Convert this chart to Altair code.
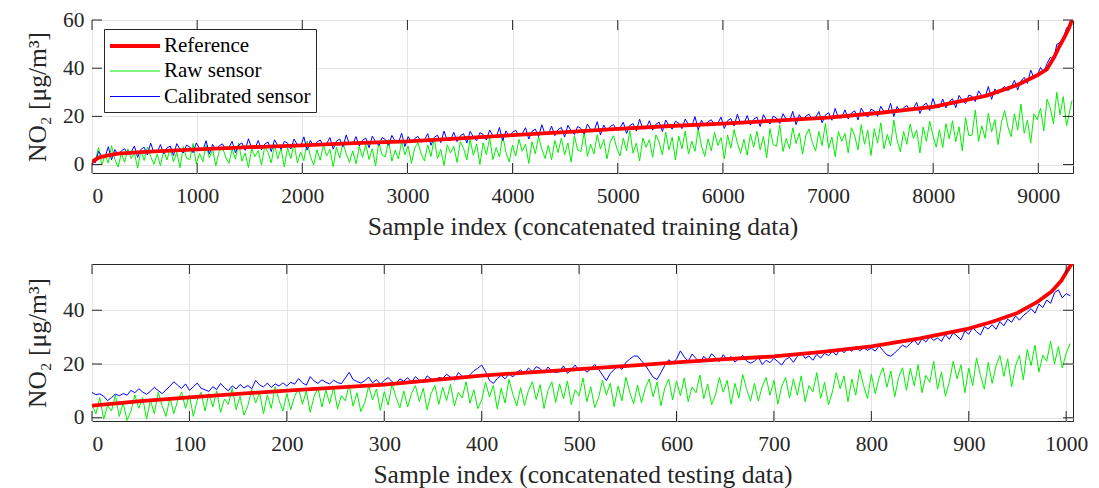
import altair as alt
import pandas as pd

FONT = "Liberation Serif"
SERIES = ["Reference", "Raw sensor", "Calibrated sensor"]
COLORS = ["#ff0000", "#00f000", "#0000ff"]
WIDTHS = [3.8, 1, 1]

# ---------------- top panel (training data) ----------------
top_ref_x = [0, 30, 70, 150, 250, 500, 1000, 1500, 2000, 2500, 3000, 3500, 4000, 4500, 5000,
             5500, 6000, 6500, 7000, 7500, 8000, 8500, 8800, 9000, 9080, 9150, 9200, 9250, 9290, 9320]
top_ref_y = [1.0, 2.0, 3.0, 3.8, 4.5, 5.3, 6.3, 7.2, 8.0, 8.9, 9.6, 10.9, 12.2, 13.5, 14.8,
             16.0, 17.0, 18.2, 19.5, 21.5, 23.9, 28.5, 33.0, 37.3, 39.5, 44.5, 49.0, 53.0, 56.5, 60.0]

top_idx = list(range(0, 9300, 31)) + [9320]

top_raw = [
    1.5, 1.4, 7.0, -0.2, 3.8, 0.6, 7.8, 2.2, -1.0, 4.6,
    0.9, 6.5, 2.5, 4.9, -1.5, 5.7, 1.7, 7.3, 3.3, 0.1,
    4.3, -0.5, 5.9, 1.9, 6.7, 1.1, 5.1, -1.3, 7.5, 2.7,
    2.0, 8.8, 0.3, 4.6, 1.2, 8.0, 2.9, 6.3, -0.5, 5.4,
    7.3, 3.1, 0.5, 6.5, 2.2, 9.0, 1.4, 4.8, -1.2, 6.5,
    3.3, 5.8, -0.2, 7.5, 5.0, 0.7, 8.4, 2.4, 6.7, -1.0,
    7.0, 2.5, 8.8, 0.7, 5.2, 1.6, 9.7, 3.4, -0.2, 6.1,
    1.8, 8.1, 3.6, 6.3, -0.9, 7.2, 2.7, 9.0, 4.5, 0.9,
    5.7, 0.3, 7.5, 3.0, 8.4, 2.1, 6.6, -0.6, 9.3, 3.9,
    3.2, 10.4, 1.4, 5.9, 2.3, 9.5, 4.1, 7.7, 0.5, 6.8,
    9.1, 4.4, 1.5, 8.2, 3.4, 11.0, 2.5, 6.3, -0.4, 8.2,
    4.8, 7.6, 0.9, 9.5, 6.7, 1.9, 10.5, 3.8, 8.6, 0.0,
    9.1, 4.1, 11.1, 2.1, 7.1, 3.1, 12.1, 5.1, 1.1, 8.1,
    3.5, 10.5, 5.5, 8.5, 0.5, 9.5, 4.5, 11.5, 6.5, 2.5,
    8.0, 2.0, 10.0, 5.0, 11.0, 4.0, 9.0, 1.0, 12.0, 6.0,
    5.4, 13.4, 3.4, 8.4, 4.4, 12.4, 6.4, 10.4, 2.4, 9.4,
    12.0, 6.8, 3.6, 11.0, 5.7, 14.1, 4.7, 8.9, 1.5, 11.0,
    7.2, 10.3, 3.0, 12.4, 9.3, 4.0, 13.5, 6.1, 11.4, 1.9,
    11.8, 6.5, 13.9, 4.4, 9.7, 5.5, 14.9, 7.6, 3.4, 10.7,
    5.7, 13.4, 7.9, 11.2, 2.4, 12.3, 6.8, 14.5, 9.0, 4.6,
    10.5, 3.9, 12.7, 7.2, 13.8, 6.1, 11.6, 2.8, 14.9, 8.3,
    7.6, 16.4, 5.4, 10.9, 6.5, 15.3, 8.7, 13.1, 4.3, 12.0,
    14.8, 9.1, 5.6, 13.7, 7.9, 17.1, 6.8, 11.4, 3.3, 13.7,
    9.6, 13.0, 4.9, 15.3, 11.9, 6.1, 16.5, 8.4, 14.2, 3.8,
    14.9, 8.9, 17.3, 6.5, 12.5, 7.7, 18.5, 10.1, 5.3, 13.7,
    8.4, 16.8, 10.8, 14.4, 4.8, 15.6, 9.6, 18.0, 12.0, 7.2,
    14.5, 7.0, 17.0, 10.7, 18.2, 9.5, 15.7, 5.7, 19.5, 12.0,
    12.2, 22.6, 9.6, 16.1, 10.9, 21.3, 13.5, 18.7, 8.3, 17.4,
    22.4, 15.7, 11.6, 21.1, 14.3, 25.1, 13.0, 18.4, 8.9, 21.1,
    18.6, 23.3, 14.0, 27.1, 23.4, 16.9, 30.0, 20.7, 28.2, 16.1,
    26.5,
]

top_cal = [
    2.1, 0.7, 5.5, 3.6, 3.1, 7.4, 2.0, 6.2, 4.0, 5.7,
    6.6, 4.3, 5.2, 7.7, 3.0, 6.3, 7.2, 4.0, 8.9, 5.0,
    5.0, 8.3, 4.4, 6.9, 7.7, 3.8, 8.7, 6.3, 4.8, 8.1,
    7.3, 4.9, 9.0, 6.6, 5.9, 9.9, 4.4, 8.4, 6.1, 7.7,
    8.6, 6.3, 7.1, 9.6, 4.9, 8.1, 9.0, 5.9, 10.7, 6.8,
    6.8, 10.0, 6.1, 8.5, 9.4, 5.4, 10.3, 7.9, 6.4, 9.6,
    8.9, 6.5, 10.6, 8.2, 7.5, 11.5, 6.0, 10.0, 7.7, 9.3,
    10.2, 7.8, 8.7, 11.2, 6.4, 9.7, 10.6, 7.4, 12.3, 8.3,
    8.4, 11.6, 7.7, 10.1, 11.0, 7.0, 11.8, 9.5, 7.9, 11.2,
    10.4, 8.0, 12.1, 9.7, 9.0, 13.0, 7.5, 11.6, 9.2, 10.8,
    11.7, 9.4, 10.3, 12.8, 8.0, 11.3, 12.2, 9.1, 13.9, 10.0,
    10.1, 13.4, 9.5, 11.9, 12.8, 8.9, 13.8, 11.5, 9.9, 13.2,
    12.5, 10.2, 14.3, 12.0, 11.3, 15.4, 9.9, 14.0, 11.7, 13.4,
    14.2, 11.9, 12.8, 15.3, 10.6, 13.8, 14.7, 11.6, 16.5, 12.6,
    12.6, 15.9, 12.0, 14.5, 15.4, 11.4, 16.3, 14.0, 12.5, 15.8,
    15.0, 12.7, 16.8, 14.5, 13.8, 17.8, 12.3, 16.4, 14.1, 15.8,
    16.6, 14.3, 15.2, 17.6, 12.9, 16.2, 17.0, 13.9, 18.8, 14.9,
    14.9, 18.2, 14.3, 16.7, 17.6, 13.7, 18.5, 16.2, 14.7, 18.0,
    17.2, 14.9, 18.9, 16.6, 15.9, 19.9, 14.4, 18.4, 16.1, 17.8,
    18.6, 16.3, 17.2, 19.7, 15.0, 18.2, 19.1, 16.0, 20.9, 17.0,
    17.0, 20.3, 16.4, 18.8, 19.7, 15.8, 20.7, 18.3, 16.8, 20.1,
    19.3, 17.0, 21.1, 18.8, 18.1, 22.1, 16.6, 20.7, 18.4, 20.1,
    20.9, 18.6, 19.5, 22.0, 17.3, 20.6, 21.5, 18.4, 23.3, 19.4,
    19.4, 22.7, 18.9, 21.4, 22.3, 18.5, 23.4, 21.1, 19.7, 23.0,
    22.3, 20.0, 24.2, 21.9, 21.3, 25.4, 19.9, 24.1, 21.8, 23.6,
    24.5, 22.3, 23.2, 25.8, 21.2, 24.5, 25.5, 22.4, 27.4, 23.6,
    23.7, 27.2, 23.5, 26.2, 27.3, 23.6, 28.7, 26.6, 25.3, 28.8,
    28.3, 26.2, 30.6, 28.5, 28.0, 32.4, 27.1, 31.4, 29.4, 31.3,
    32.4, 30.6, 32.0, 35.0, 30.9, 34.7, 36.2, 33.7, 39.2, 35.9,
    37.0, 40.3, 38.3, 41.9, 44.5, 43.5, 49.9, 50.6, 52.1, 56.8,
    58.0,
]

top_xticks = [0, 1000, 2000, 3000, 4000, 5000, 6000, 7000, 8000, 9000]
top_yticks = [0, 20, 40, 60]

# ---------------- bottom panel (testing data) ----------------
bot_ref_x = [0, 50, 100, 150, 200, 250, 300, 350, 400, 450, 500, 550, 600, 650, 700,
             750, 800, 850, 900, 925, 950, 970, 985, 995, 1000, 1006]
bot_ref_y = [4.5, 6.2, 7.6, 8.9, 10.1, 11.2, 12.3, 14.0, 15.7, 16.9, 18.1, 19.3, 20.6, 21.8, 22.8,
             24.5, 26.6, 29.5, 33.2, 35.8, 39.0, 43.0, 47.0, 51.0, 54.0, 57.5]

bot_idx = list(range(0, 1008, 4))

bot_raw = [
    5.0, 1.5, 7.5, -0.5, 4.5, 2.5, 8.5, 0.5, 5.5, -1.0,
    2.5, 8.5, 3.5, 7.5, -0.5, 6.5, 1.5, 9.5, 4.5, 0.5,
    7.5, 1.5, 6.5, 9.5, 3.5, 8.5, 0.5, 6.5, 9.5, 2.5,
    9.0, 4.0, 10.0, 2.0, 7.0, 5.0, 11.0, 3.0, 8.0, 1.0,
    4.5, 10.5, 5.5, 9.5, 1.5, 8.5, 3.5, 11.5, 6.5, 2.5,
    9.0, 3.0, 8.0, 11.0, 5.0, 10.0, 2.0, 8.0, 11.0, 4.0,
    10.3, 5.3, 11.3, 3.3, 8.3, 6.3, 12.3, 4.3, 9.3, 2.3,
    5.7, 11.7, 6.7, 10.7, 2.7, 9.7, 4.7, 12.7, 7.7, 3.7,
    10.0, 4.0, 9.0, 12.0, 6.0, 11.0, 3.0, 9.0, 12.0, 5.0,
    11.4, 6.4, 12.4, 4.4, 9.4, 7.4, 13.4, 5.4, 10.4, 3.4,
    6.6, 13.2, 7.7, 12.1, 3.3, 11.0, 5.5, 14.3, 8.8, 4.4,
    11.2, 4.6, 10.1, 13.4, 6.8, 12.3, 3.5, 10.1, 13.4, 5.7,
    12.6, 7.1, 13.7, 4.9, 10.4, 8.2, 14.8, 6.0, 11.5, 3.8,
    7.4, 14.0, 8.5, 12.9, 4.1, 11.8, 6.3, 15.1, 9.6, 5.2,
    12.2, 5.6, 11.1, 14.4, 7.8, 13.3, 4.5, 11.1, 14.4, 6.7,
    13.7, 8.2, 14.8, 6.0, 11.5, 9.3, 15.9, 7.1, 12.6, 4.9,
    8.4, 15.0, 9.5, 13.9, 5.1, 12.8, 7.3, 16.1, 10.6, 6.2,
    12.8, 6.2, 11.7, 15.0, 8.4, 13.9, 5.1, 11.7, 15.0, 7.3,
    14.4, 8.4, 15.6, 6.0, 12.0, 9.6, 16.8, 7.2, 13.2, 4.8,
    9.6, 16.8, 10.8, 15.6, 6.0, 14.4, 8.4, 18.0, 12.0, 7.2,
    16.2, 9.0, 15.0, 18.6, 11.4, 17.4, 7.8, 15.0, 18.6, 10.2,
    18.4, 11.9, 19.7, 9.3, 15.8, 13.2, 21.0, 10.6, 17.1, 8.0,
    13.2, 21.0, 14.5, 19.7, 9.3, 18.4, 11.9, 22.3, 15.8, 10.6,
    20.6, 12.8, 19.3, 23.2, 15.4, 21.9, 11.5, 19.3, 23.2, 14.1,
    25.4, 19.4, 27.0, 17.0, 23.3, 21.0, 28.5, 20.0, 26.5, 18.5,
    24.0, 27.5,
]

bot_cal = [
    9.4, 8.6, 8.9, 8.0, 6.4, 7.5, 8.8, 8.2, 9.0, 8.4,
    10.2, 9.3, 10.8, 9.6, 8.7, 9.9, 11.3, 10.1, 9.0, 10.4,
    11.8, 13.4, 12.1, 10.9, 12.6, 10.2, 11.5, 12.9, 11.0, 10.4,
    9.8, 11.6, 10.5, 12.8, 11.2, 10.0, 11.9, 10.7, 12.4, 11.1,
    12.0, 10.8, 13.9, 12.2, 11.5, 12.9, 11.3, 12.6, 11.8, 13.0,
    11.8, 13.2, 12.5, 14.6, 13.0, 12.1, 15.3, 13.7, 12.8, 14.1,
    13.2, 12.6, 14.0, 13.1, 12.7, 14.8, 16.9, 14.2, 13.5, 12.9,
    13.8, 15.1, 13.0, 14.2, 12.5, 13.9, 15.0, 13.4, 12.6, 14.5,
    13.6, 14.9, 13.2, 15.3, 14.0, 13.1, 15.6, 14.4, 13.8, 15.0,
    14.6, 16.2, 15.1, 14.0, 16.8, 15.4, 14.7, 16.0, 17.5, 18.4,
    19.6, 17.2, 13.9, 12.8, 14.6, 15.8, 14.5, 16.3, 15.2, 16.9,
    17.8, 16.4, 18.5, 17.1, 19.0, 18.3, 16.6, 18.9, 17.4, 16.8,
    17.2, 19.3, 16.5, 18.0, 19.6, 17.4, 18.7, 16.9, 18.2, 19.8,
    18.1, 15.9, 13.8, 16.5, 17.9, 19.2, 18.0, 20.6, 21.8, 22.9,
    23.0, 21.2, 19.6, 17.3, 15.1, 14.2, 16.8, 19.5, 21.6, 20.4,
    21.8, 24.9, 22.6, 21.0, 23.7, 22.1, 20.5, 22.9, 21.3, 23.8,
    22.4, 20.9, 23.5, 21.6, 22.8, 20.7, 22.0, 23.2, 21.1, 20.3,
    21.0, 22.6, 19.8, 21.4, 20.5, 22.1, 20.9, 19.6, 21.7, 22.5,
    20.6, 22.8, 24.3, 22.1, 23.0, 21.4, 23.6, 22.2, 24.0, 23.1,
    24.6, 23.3, 25.5, 24.2, 25.9, 24.7, 26.3, 24.9, 26.0, 25.1,
    25.9, 24.8, 26.7, 25.0, 23.4, 22.9, 24.1, 25.6, 27.0, 26.2,
    27.6, 28.9, 27.1, 29.4, 28.2, 30.1, 28.8, 29.7, 28.4, 31.0,
    29.2, 31.6, 30.4, 29.0, 32.3, 31.1, 33.5, 32.0, 30.8, 33.9,
    33.0, 34.6, 32.9, 35.8, 34.2, 36.7, 35.5, 37.9, 36.3, 38.0,
    39.2, 40.6, 38.9, 42.3, 41.0, 43.8, 42.6, 46.5, 47.6, 44.6,
    46.2, 45.4,
]

bot_xticks = [0, 100, 200, 300, 400, 500, 600, 700, 800, 900, 1000]
bot_yticks = [0, 20, 40]

W = 981
H_TOP, H_BOT = 153, 157
TICK = 10
YTITLE = "NO\u2082 [\u03bcg/m\u00b3]"
INK = "#262626"


def panel(idx, raw, cal, rx, ry, xdom, xticks, ydom, yticks, xtitle, H):
    xs = alt.Scale(domain=xdom, nice=False, zero=False)
    ys = alt.Scale(domain=ydom, nice=False, zero=False)
    leg = alt.Legend(
        title=None, orient="none", legendX=12, legendY=9,
        symbolType="M-2.5,0H2.5", symbolSize=400, symbolOffset=14,
        labelFont=FONT, labelFontSize=21, labelOffset=17,
        labelColor="black", fillColor="white", strokeColor=INK, padding=5,
        rowPadding=3.5, labelLimit=400,
    )
    color = alt.Color("s:N", scale=alt.Scale(domain=SERIES, range=COLORS), legend=leg)
    width = alt.StrokeWidth("s:N", scale=alt.Scale(type="ordinal", domain=SERIES, range=WIDTHS),
                            legend=leg)
    xax = alt.Axis(values=xticks, title=xtitle, grid=True, ticks=False, domain=False,
                   labelPadding=12, titlePadding=8, format="d")
    yax = alt.Axis(values=yticks, title=YTITLE, grid=True, ticks=False, domain=False,
                   labelPadding=8, titlePadding=12, format="d")

    def line(x, y, name):
        df = pd.DataFrame({"x": x, "y": y, "s": name})
        return alt.Chart(df).mark_line(clip=True, strokeCap="round", strokeJoin="round").encode(
            x=alt.X("x:Q", scale=xs, axis=xax, title=xtitle),
            y=alt.Y("y:Q", scale=ys, axis=yax, title=YTITLE),
            color=color, strokeWidth=width,
        )

    xt = pd.DataFrame({"x": xticks})
    yt = pd.DataFrame({"y": yticks})
    rule = dict(color=INK, strokeWidth=1)
    X = alt.X("x:Q", scale=xs, axis=xax, title=xtitle)
    Y = alt.Y("y:Q", scale=ys, axis=yax, title=YTITLE)
    tb = alt.Chart(xt).mark_rule(**rule).encode(x=X, y=alt.value(H), y2=alt.value(H - TICK))
    tt = alt.Chart(xt).mark_rule(**rule).encode(x=X, y=alt.value(0), y2=alt.value(TICK))
    tl = alt.Chart(yt).mark_rule(**rule).encode(y=Y, x=alt.value(0), x2=alt.value(TICK))
    tr = alt.Chart(yt).mark_rule(**rule).encode(y=Y, x=alt.value(W), x2=alt.value(W - TICK))

    return alt.layer(
        line(idx, raw, "Raw sensor"),
        line(idx, cal, "Calibrated sensor"),
        line(rx, ry, "Reference"),
        tb, tt, tl, tr,
    ).properties(width=W, height=H)


top = panel(top_idx, top_raw, top_cal, top_ref_x, top_ref_y, [0, 9330], top_xticks,
            [-3.5, 60], top_yticks, "Sample index (concatenated training data)", H_TOP)
bottom = panel(bot_idx, bot_raw, bot_cal, bot_ref_x, bot_ref_y, [0, 1007], bot_xticks,
               [-1.2, 57.2], bot_yticks, "Sample index (concatenated testing data)", H_BOT)

chart = alt.vconcat(top, bottom, spacing=22).configure(
    padding={"left": 17, "top": 0, "right": 0, "bottom": 0}
).configure_view(
    stroke=INK, strokeWidth=1
).configure_axis(
    labelFont=FONT, labelFontSize=21.5, labelColor=INK,
    titleFont=FONT, titleFontSize=25.5, titleFontWeight="normal", titleColor=INK,
    gridColor="#e3e3e3", gridWidth=1,
)

chart.save("out.html", embed_options={"renderer": "svg", "actions": False})
